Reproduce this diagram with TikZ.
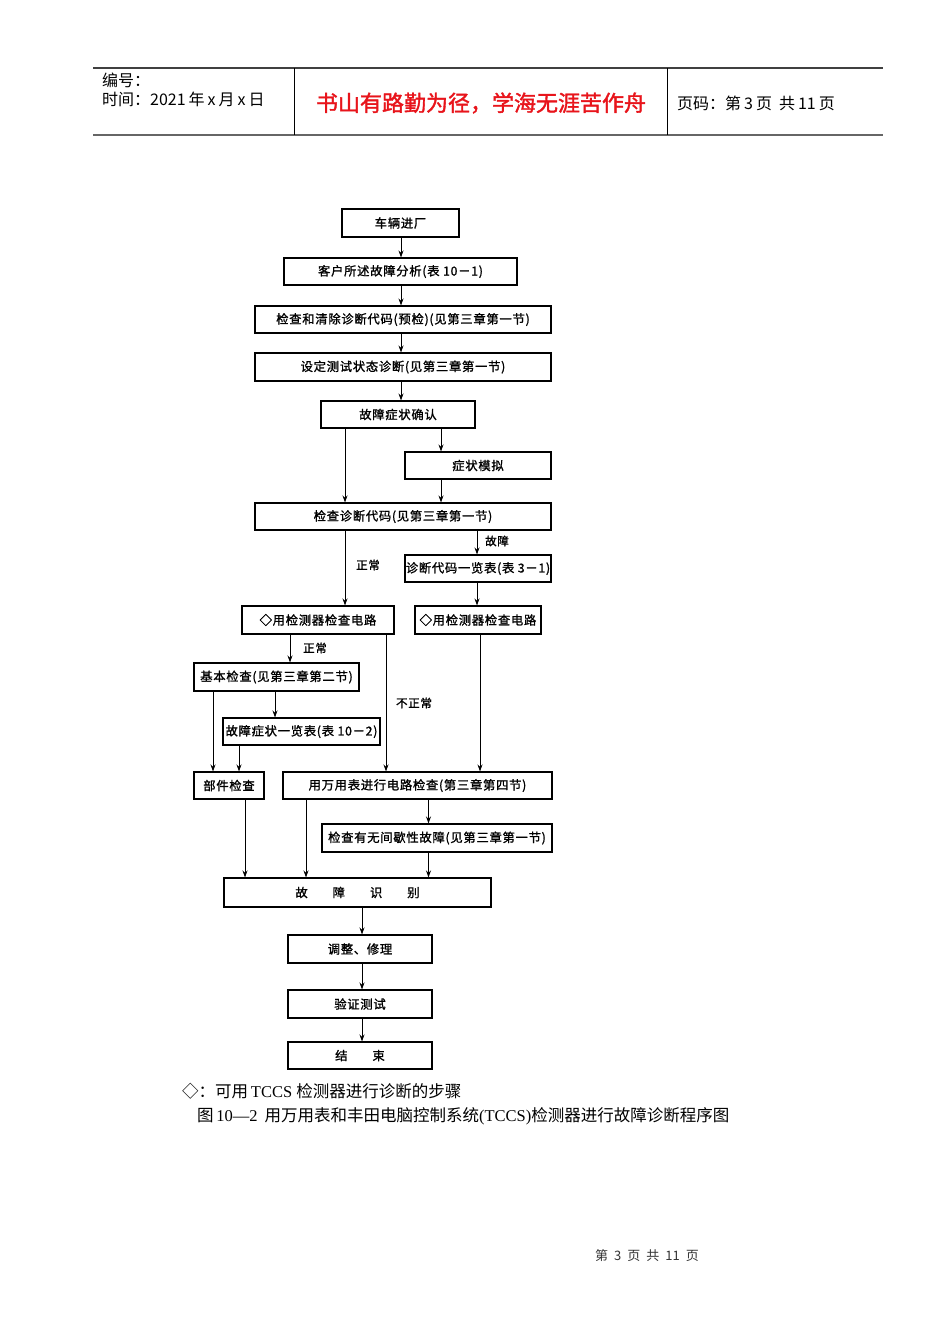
\documentclass[tikz,border=0pt]{standalone}
\usepackage{fontspec}
\setmainfont{Liberation Serif}
\newfontfamily\cjk{Noto Sans CJK SC}
\newfontfamily\cjkb[FakeBold=1.3,LetterSpace=6]{Noto Sans CJK SC}
\newfontfamily\cjkt[FakeBold=1.6]{Noto Sans CJK SC}
\usetikzlibrary{arrows.meta}
\definecolor{titlered}{HTML}{E8141B}
\tikzset{
  box/.style={draw, line width=1.1pt, inner sep=0pt, font=\cjkb\fontsize{12.3}{12.3}\selectfont},
  arr/.style={line width=0.9pt, -{Stealth[length=7pt,width=5pt]}},
  lab/.style={inner sep=0pt, font=\cjkb\fontsize{11.5}{11.5}\selectfont},
  hdr/.style={line width=1.2pt, draw=black!75}
}
\begin{document}
\begin{tikzpicture}[x=1pt,y=-1pt]
\useasboundingbox[fill=white] (0,0) rectangle (950,1344);
% header
\draw[hdr] (93,68) coordinate (ht1) -- (883,68) coordinate (ht2);
\draw[hdr, line width=1.5pt, draw=black!60] (93,135) coordinate (hb1) -- (883,135) coordinate (hb2);
\draw[line width=1pt] (294,68) coordinate (v1a) -- (294,135) coordinate (v1b);
\draw[line width=1pt] (667,68) coordinate (v2a) -- (667,135) coordinate (v2b);
\node[anchor=west, inner sep=0pt, font=\cjk\fontsize{16}{16}\selectfont] (h1) at (102,80) {编号：};
\node[anchor=west, inner sep=0pt, font=\cjk\fontsize{16}{16}\selectfont] (h2) at (102,99) {时间：2021\hspace{3pt}年\hspace{3pt}x\hspace{3pt}月\hspace{3pt}x\hspace{3pt}日};
\node[inner sep=0pt, text=titlered, font=\cjkt\fontsize{22}{22}\selectfont] (title) at (481,103) {书山有路勤为径，学海无涯苦作舟};
\node[anchor=west, inner sep=0pt, font=\cjk\fontsize{16}{16}\selectfont] (h3) at (677,103) {页码：第\hspace{3pt}3\hspace{3pt}页\hspace{7pt}共\hspace{3pt}11\hspace{3pt}页};

% flowchart boxes
\node[box, minimum width=117pt, minimum height=28pt] (n1) at (400.5,223) {车辆进厂};
\node[box, minimum width=233pt, minimum height=27pt] (n2) at (400.5,271.5) {客户所述故障分析(表 10－1)};
\node[box, minimum width=296pt, minimum height=27pt] (n3) at (403,319.5) {检查和清除诊断代码(预检)(见第三章第一节)};
\node[box, minimum width=296pt, minimum height=28pt] (n4) at (403,367) {设定测试状态诊断(见第三章第一节)};
\node[box, minimum width=154pt, minimum height=27pt] (n5) at (398,414.5) {故障症状确认};
\node[box, minimum width=146pt, minimum height=27pt] (n6) at (478,465.5) {症状模拟};
\node[box, minimum width=296pt, minimum height=27pt] (n7) at (403,516.5) {检查诊断代码(见第三章第一节)};
\node[box, minimum width=146pt, minimum height=27pt] (n8) at (478,568.5) {诊断代码一览表(表 3－1)};
\node[box, minimum width=152pt, minimum height=28pt] (n9) at (318,620) {◇用检测器检查电路};
\node[box, minimum width=126pt, minimum height=28pt] (n10) at (478,620) {◇用检测器检查电路};
\node[box, minimum width=165pt, minimum height=28pt] (n11) at (276.5,677) {基本检查(见第三章第二节)};
\node[box, minimum width=157pt, minimum height=27pt] (n12) at (301.5,731.5) {故障症状一览表(表 10－2)};
\node[box, minimum width=70pt, minimum height=27pt] (n13) at (229,785.5) {部件检查};
\node[box, minimum width=269pt, minimum height=27pt] (n14) at (417.5,785.5) {用万用表进行电路检查(第三章第四节)};
\node[box, minimum width=230pt, minimum height=28pt] (n15) at (437,838) {检查有无间歇性故障(见第三章第一节)};
\node[box, minimum width=267pt, minimum height=29pt] (n16) at (357.5,892.5) {故\hspace{25pt}障\hspace{25pt}识\hspace{25pt}别};
\node[box, minimum width=144pt, minimum height=28pt] (n17) at (360,949) {调整、修理};
\node[box, minimum width=144pt, minimum height=28pt] (n18) at (360,1004) {验证测试};
\node[box, minimum width=144pt, minimum height=27pt] (n19) at (360,1055.5) {结\hspace{25pt}束};

% x positions of connectors
\coordinate (x345) at (345,0);
\coordinate (x441) at (441,0);
\coordinate (x477) at (477,0);
\coordinate (x290) at (290,0);
\coordinate (x386) at (386,0);
\coordinate (x480) at (480,0);
\coordinate (x213) at (213,0);
\coordinate (x275) at (275,0);
\coordinate (x239) at (239,0);
\coordinate (x245) at (245,0);
\coordinate (x306) at (306,0);
\coordinate (x428) at (428.5,0);
\coordinate (x362) at (362,0);
\coordinate (x401) at (401,0);

% connectors
\draw[arr] (n1.south -| x401) -- (n2.north -| x401);
\draw[arr] (n2.south -| x401) -- (n3.north -| x401);
\draw[arr] (n3.south -| x401) -- (n4.north -| x401);
\draw[arr] (n4.south -| x401) -- (n5.north -| x401);
\draw[arr] (n5.south -| x441) -- (n6.north -| x441);
\draw[arr] (n5.south -| x345) -- (n7.north -| x345);
\draw[arr] (n6.south -| x441) -- (n7.north -| x441);
\draw[arr] (n7.south -| x477) -- (n8.north -| x477);
\draw[arr] (n7.south -| x345) -- (n9.north -| x345);
\draw[arr] (n8.south -| x477) -- (n10.north -| x477);
\draw[arr] (n9.south -| x290) -- (n11.north -| x290);
\draw[arr] (n9.south -| x386) -- (n14.north -| x386);
\draw[arr] (n10.south -| x480) -- (n14.north -| x480);
\draw[arr] (n11.south -| x213) -- (n13.north -| x213);
\draw[arr] (n11.south -| x275) -- (n12.north -| x275);
\draw[arr] (n12.south -| x239) -- (n13.north -| x239);
\draw[arr] (n13.south -| x245) -- (n16.north -| x245);
\draw[arr] (n14.south -| x306) -- (n16.north -| x306);
\draw[arr] (n14.south -| x428) -- (n15.north -| x428);
\draw[arr] (n15.south -| x428) -- (n16.north -| x428);
\draw[arr] (n16.south -| x362) -- (n17.north -| x362);
\draw[arr] (n17.south -| x362) -- (n18.north -| x362);
\draw[arr] (n18.south -| x362) -- (n19.north -| x362);

% labels
\node[lab] (l1) at (497,541) {故障};
\node[lab] (l2) at (368,565) {正常};
\node[lab] (l3) at (315,648) {正常};
\node[lab] (l4) at (414,703) {不正常};

% caption
\node[anchor=west, inner sep=0pt, font=\fontsize{16.5}{16.5}\selectfont] (cap1) at (182,1091) {{\cjk ◇：可用}\,TCCS {\cjk 检测器进行诊断的步骤}};
\node[anchor=west, inner sep=0pt, font=\fontsize{16.5}{16.5}\selectfont] (cap2) at (197,1116) {{\cjk 图}\,10—2\ \,{\cjk 用万用表和丰田电脑控制系统}(TCCS){\cjk 检测器进行故障诊断程序图}};
% footer
\node[inner sep=0pt, text=black!80, font=\cjk\fontsize{13}{13}\selectfont] (foot) at (647,1256) {第\hspace{6pt}3\hspace{6pt}页\hspace{6pt}共\hspace{6pt}11\hspace{6pt}页};
\end{tikzpicture}
\end{document}
